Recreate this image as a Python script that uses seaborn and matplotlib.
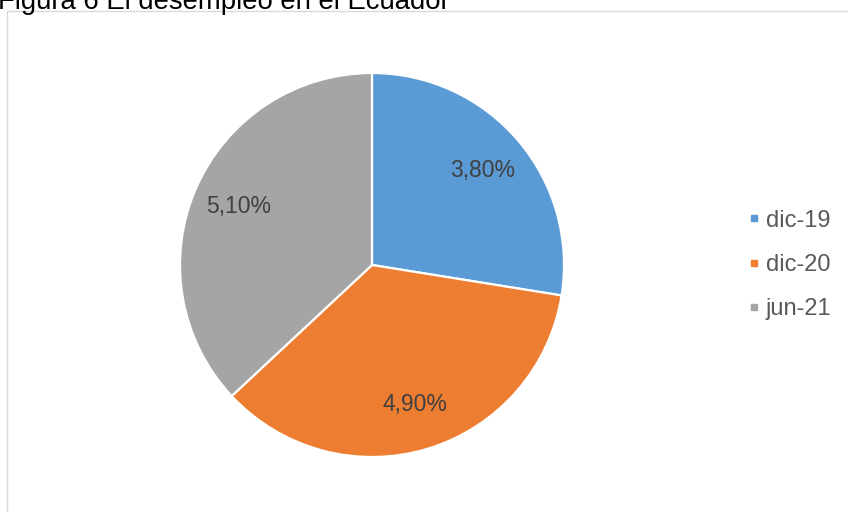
import matplotlib
matplotlib.use("Agg")
import matplotlib.pyplot as plt
from matplotlib.patches import Rectangle
from matplotlib.lines import Line2D
import seaborn as sns
import numpy as np

sns.set_theme(style="white")
plt.rcParams['font.family'] = ['Liberation Sans', 'DejaVu Sans']

categories = ["dic-19", "dic-20", "jun-21"]
values = [3.80, 4.90, 5.10]
value_labels = ["3,80%", "4,90%", "5,10%"]
colors = ["#5B9BD5", "#ED7D31", "#A5A5A5"]
title = "Figura 6 El desempleo en el Ecuador"

W, H = 848, 512
fig = plt.figure(figsize=(W / 100, H / 100), dpi=100)
fig.patch.set_facecolor("white")

# chart frame
fig.patches.append(Rectangle((7 / W, -0.01), 1.0, 1 - 11 / H + 0.01,
                             transform=fig.transFigure, fill=False,
                             edgecolor="#D9D9D9", linewidth=1.0))

fig.text(-2 / W, 1 - 9 / H, title, fontsize=19.8, color="#000000",
         ha="left", va="baseline")

cx, cy, r = 372, 265, 192
ax = fig.add_axes([(cx - r) / W, (H - cy - r) / H, 2 * r / W, 2 * r / H])
wedges, _ = ax.pie(values, colors=colors, startangle=90, counterclock=False,
                   wedgeprops=dict(edgecolor="white", linewidth=1.6))
ax.set_xlim(-1, 1)
ax.set_ylim(-1, 1)
ax.axis("off")

for w, lab in zip(wedges, value_labels):
    ang = np.deg2rad((w.theta1 + w.theta2) / 2)
    d = 0.76
    ax.text(d * np.cos(ang), d * np.sin(ang), lab, ha="center", va="center",
            fontsize=16.5, color="#404040")

handles = [Line2D([], [], marker="s", linestyle="none", markersize=5,
                  markerfacecolor=c, markeredgecolor=c) for c in colors]
leg = fig.legend(handles, categories, loc="center left",
                 bbox_to_anchor=(727 / W, 1 - 265 / H), frameon=False,
                 fontsize=17, handlelength=0.45, handletextpad=0.3,
                 labelspacing=0.95, labelcolor="#595959")

fig.savefig("out.png", dpi=100, facecolor="white")
